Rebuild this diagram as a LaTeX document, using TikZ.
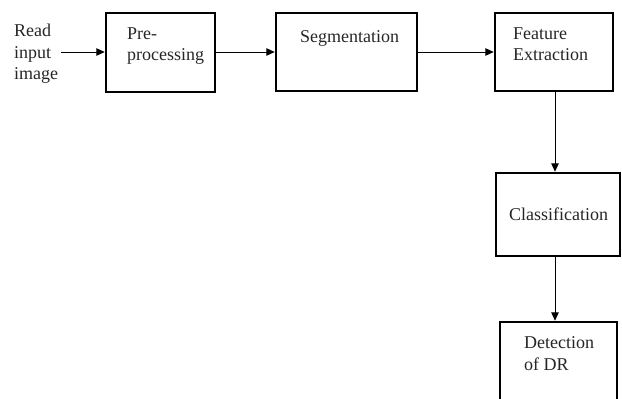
\documentclass[tikz,border=0pt]{standalone}
\usepackage{fontspec}
\setmainfont{Liberation Serif}
\usetikzlibrary{arrows.meta}
\begin{document}
\begin{tikzpicture}[x=1pt,y=1pt,
  blk/.style={draw=black,line width=2.5pt,rectangle,inner sep=0pt},
  lbl/.style={inner sep=0pt,align=left,font=\fontsize{18}{21.5}\selectfont,text=black!85},
  arr/.style={line width=1pt,-{Triangle[length=8.5pt,width=7.5pt]}}]
\useasboundingbox (0,0) rectangle (622,-399);
\begin{scope}
\clip (0,0) rectangle (622,-399);
\node[blk,minimum width=109pt,minimum height=79pt] (b1) at (160.5,-52.5) {};
\node[blk,minimum width=141pt,minimum height=78pt] (b2) at (346.5,-52) {};
\node[blk,minimum width=118pt,minimum height=78pt] (b3) at (554,-52) {};
\node[blk,minimum width=124pt,minimum height=83pt] (b4) at (558,-214.5) {};
\node[blk,minimum width=117pt,minimum height=100pt] (b5) at (558.5,-372) {};
\end{scope}
\node[lbl,anchor=north west] (t0) at (14,-24) {Read\\input\\image};
\node[lbl,anchor=north west] (t1) at (127,-27.5) {Pre-\\processing};
\node[lbl,anchor=north west] (t2) at (300,-30.5) {Segmentation};
\node[lbl,anchor=north west] (t3) at (513,-27.5) {Feature\\Extraction};
\node[lbl,anchor=west] (t4) at (509,-214) {Classification};
\node[lbl,anchor=north west] (t5) at (524,-336.5) {Detection\\of DR};
\coordinate (in) at (61,-52);
\draw[arr] (in) -- (in -| b1.west);
\draw[arr] (b1.east |- in) -- (in -| b2.west);
\draw[arr] (b2.east |- in) -- (in -| b3.west);
\coordinate (v3) at (555,0);
\draw[arr] (v3 |- b3.south) -- (v3 |- b4.north);
\draw[arr] (v3 |- b4.south) -- (v3 |- b5.north);
\end{tikzpicture}
\end{document}
